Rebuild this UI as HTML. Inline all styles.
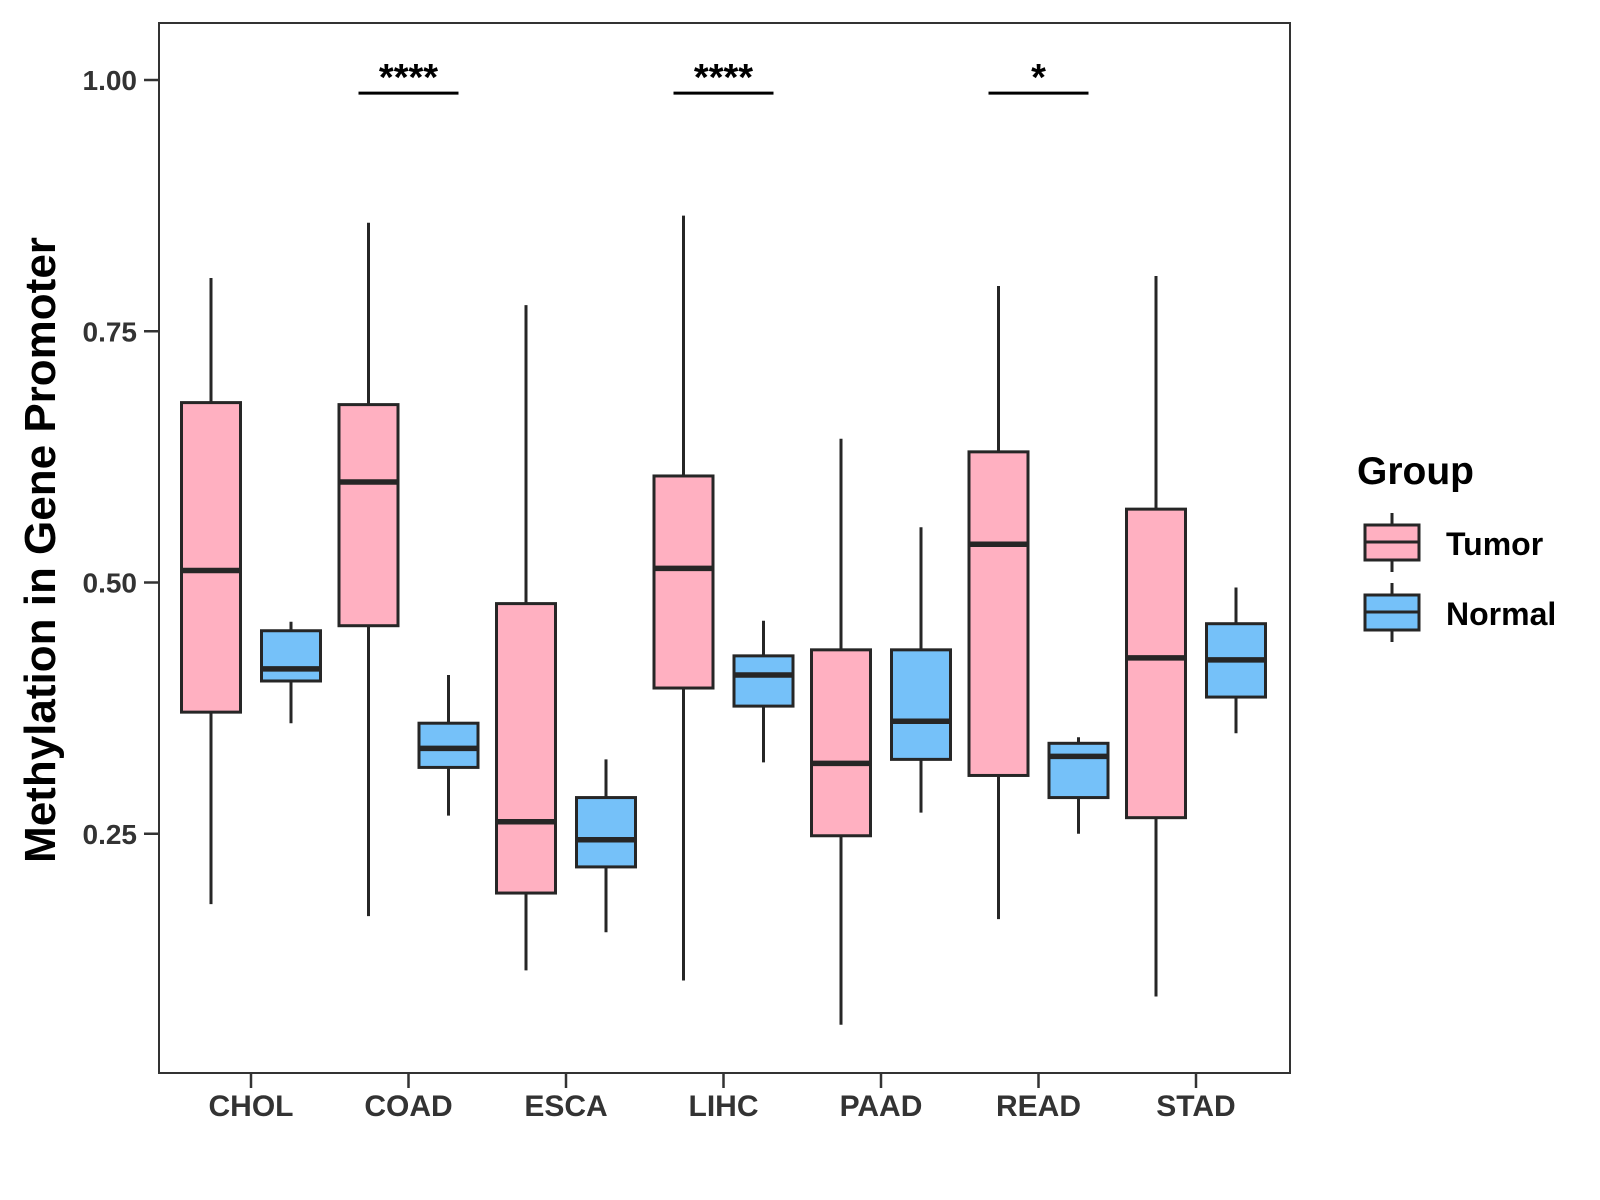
<!DOCTYPE html>
<html><head><meta charset="utf-8"><style>html,body{margin:0;padding:0;background:#fff}svg{display:block}text{font-family:"Liberation Sans",Arial,sans-serif;font-weight:bold}</style></head>
<body>
<svg id="chart" width="1600" height="1200" viewBox="0 0 1600 1200">
<rect x="159" y="23" width="1131" height="1050" fill="#fff" stroke="#333" stroke-width="2"/>
<g id="boxes"></g><g id="axes"></g><g id="sig"></g>
<text transform="translate(55,550) rotate(-90)" text-anchor="middle" font-size="44" fill="#000">Methylation in Gene Promoter</text>
<g>
<text x="1357" y="484" font-size="39" fill="#000">Group</text>
<g>
<line x1="1392" y1="513" x2="1392" y2="572" stroke="#262626" stroke-width="3"/>
<rect x="1365" y="525" width="54" height="35" fill="#FFB0C1" stroke="#262626" stroke-width="3"/>
<line x1="1365" y1="542" x2="1419" y2="542" stroke="#262626" stroke-width="3"/>
<text x="1446" y="555" font-size="32" fill="#000">Tumor</text></g>
<g>
<line x1="1392" y1="583" x2="1392" y2="642" stroke="#262626" stroke-width="3"/>
<rect x="1365" y="595" width="54" height="35" fill="#75C1F9" stroke="#262626" stroke-width="3"/>
<line x1="1365" y1="612" x2="1419" y2="612" stroke="#262626" stroke-width="3"/>
<text x="1446" y="625" font-size="32" fill="#000">Normal</text></g>
</g>
</svg>
<script>
const categories=["CHOL","COAD","ESCA","LIHC","PAAD","READ","STAD"];
const tumorStats=[[0.180,0.371,0.512,0.679,0.803],[0.168,0.457,0.600,0.677,0.858],[0.114,0.191,0.262,0.479,0.776],[0.104,0.395,0.514,0.606,0.865],[0.060,0.248,0.320,0.433,0.643],[0.165,0.308,0.538,0.630,0.795],[0.088,0.266,0.425,0.573,0.805]];
const normalStats=[[0.360,0.402,0.414,0.452,0.461],[0.268,0.316,0.335,0.360,0.408],[0.152,0.217,0.244,0.286,0.324],[0.321,0.377,0.408,0.427,0.462],[0.271,0.324,0.362,0.433,0.555],[0.250,0.286,0.327,0.340,0.346],[0.350,0.386,0.423,0.459,0.495]];
const yTicks=[0.25,0.5,0.75,1.0];
const yTickLabels=["0.25","0.50","0.75","1.00"];
const sigLabels=["","****","","****","","*",""];
const sigLevel=0.987;
const NS="http://www.w3.org/2000/svg";
const y=v=>80+(1-v)*1005;
const x=i=>251+i*157.5;
function mk(t,a,p){const e=document.createElementNS(NS,t);for(const k in a)e.setAttribute(k,a[k]);p.appendChild(e);return e;}
const gb=document.getElementById('boxes'),ga=document.getElementById('axes'),gs=document.getElementById('sig');
function box(s,cx,fill,name){
 const g=mk('g',{},gb);
 
 
 mk('line',{x1:cx,x2:cx,y1:y(s[4]),y2:y(s[0]),stroke:'#262626','stroke-width':3},g);
 mk('rect',{x:cx-29.5,width:59,y:y(s[3]),height:y(s[1])-y(s[3]),fill:fill,stroke:'#262626','stroke-width':3},g);
 mk('line',{x1:cx-29.5,x2:cx+29.5,y1:y(s[2]),y2:y(s[2]),stroke:'#262626','stroke-width':5.5},g);
}
categories.forEach((c,i)=>{
 box(tumorStats[i],x(i)-40,'#FFB0C1','box-tumor-'+c.toLowerCase());
 box(normalStats[i],x(i)+40,'#75C1F9','box-normal-'+c.toLowerCase());
 mk('line',{x1:x(i),x2:x(i),y1:1073,y2:1088,stroke:'#333','stroke-width':2.5},ga);
 const t=mk('text',{x:x(i),y:1116,'text-anchor':'middle','font-size':30,fill:'#333'},ga);
 t.textContent=c;
 
 
 if(sigLabels[i]){
  const l=mk('line',{x1:x(i)-50,x2:x(i)+50,y1:y(sigLevel),y2:y(sigLevel),stroke:'#000','stroke-width':3},gs);
  
  
  const st=mk('text',{x:x(i),y:y(sigLevel)-3,'text-anchor':'middle','font-size':38,fill:'#000'},gs);
  st.textContent=sigLabels[i];
  
  
 }
});
yTicks.forEach((v,i)=>{
 mk('line',{x1:144,x2:159,y1:y(v),y2:y(v),stroke:'#333','stroke-width':2.5},ga);
 const t=mk('text',{x:137,y:y(v)+10,'text-anchor':'end','font-size':28,fill:'#333'},ga);
 t.textContent=yTickLabels[i];
 
 
});
</script>
</body></html>
